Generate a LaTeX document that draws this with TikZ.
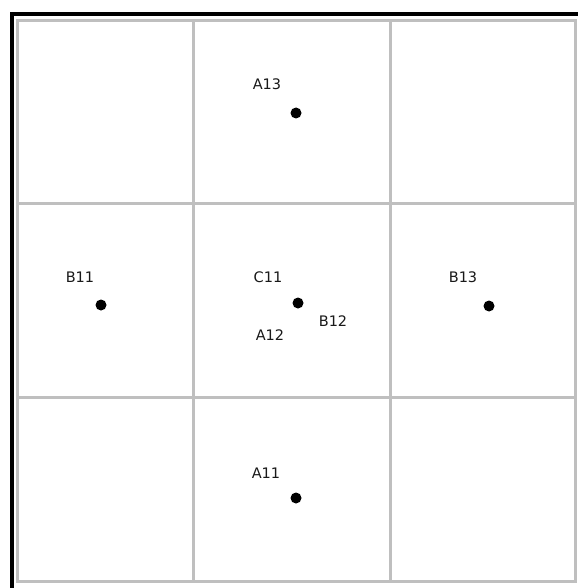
\documentclass[tikz,border=0pt]{standalone}
\usepackage{fontspec}
\setmainfont{DejaVu Sans}
\begin{document}
\begin{tikzpicture}[x=1pt,y=-1pt,
  gridline/.style={draw=gray!50,line width=3pt},
  frameline/.style={draw=black,line width=4pt},
  pt/.style={circle,fill=black,inner sep=0pt,minimum size=11pt},
  lbl/.style={font=\fontsize{14.5}{16}\selectfont,inner sep=0pt,text=black!90}]
\useasboundingbox (0,0) rectangle (578,588);
\fill[white] (0,0) rectangle (578,588);
% grid
\draw[gridline] (17.5,20.5) rectangle (575.5,581.5);
\draw[gridline] (193,20.5) -- (193,581.5);
\draw[gridline] (390,20.5) -- (390,581.5);
\draw[gridline] (17.5,203) -- (575.5,203);
\draw[gridline] (17.5,397) -- (575.5,397);
% black frame (top and left)
\draw[frameline] (12,588) -- (12,14) -- (578,14);
% points
\node[pt] (a13) at (296,113) {};
\node[pt] (b11) at (101,305) {};
\node[pt] (c11) at (298,303) {};
\node[pt] (b13) at (489,306) {};
\node[pt] (a11) at (296,498) {};
% labels
\node[lbl] (la13) at (267,84) {A13};
\node[lbl] (lb11) at (80,277) {B11};
\node[lbl] (lc11) at (268,277) {C11};
\node[lbl] (lb13) at (463,277) {B13};
\node[lbl] (lb12) at (333,321) {B12};
\node[lbl] (la12) at (270,335) {A12};
\node[lbl] (la11) at (266,473) {A11};
\end{tikzpicture}
\end{document}
